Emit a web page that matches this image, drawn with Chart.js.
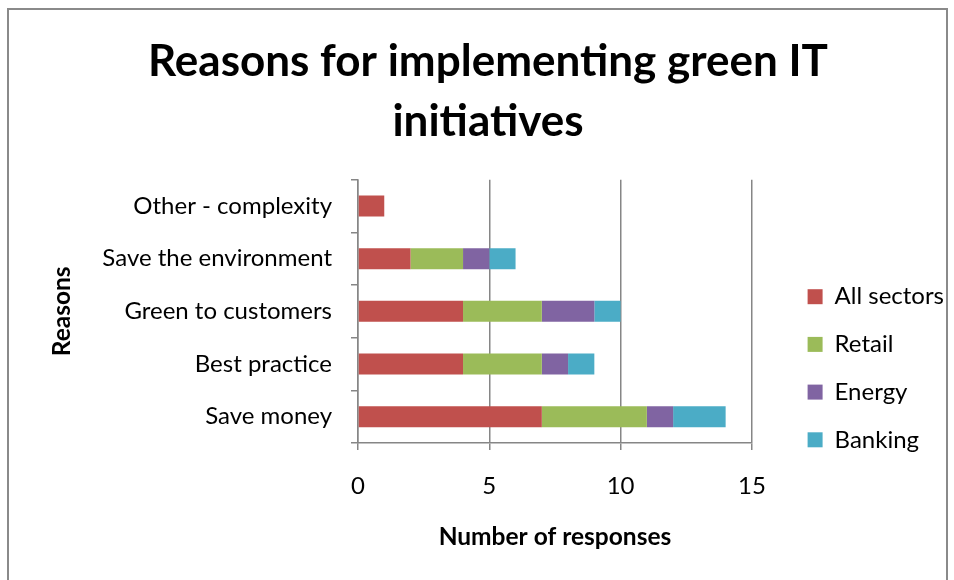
<!DOCTYPE html>
<html>
<head>
<meta charset="utf-8">
<script src="https://cdn.jsdelivr.net/npm/chart.js@4.4.1/dist/chart.umd.min.js"></script>
<style>
  html, body { margin: 0; padding: 0; background: #ffffff; }
  #wrap { width: 954px; height: 580px; position: relative; }
</style>
</head>
<body>
<div id="wrap"><canvas id="c" width="954" height="580"></canvas></div>
<script>
// ---- Data ----
const categories = ["Other - complexity", "Save the environment", "Green to customers", "Best practice", "Save money"];
const seriesNames = ["All sectors", "Retail", "Energy", "Banking"];
const allSectors = [1, 2, 4, 4, 7];
const retail     = [0, 2, 3, 3, 4];
const energy     = [0, 1, 2, 1, 1];
const banking    = [0, 1, 1, 1, 2];
const xTickValues = [0, 5, 10, 15];
const chartTitle = ["Reasons for implementing green IT", "initiatives"];
const xAxisTitle = "Number of responses";
const yAxisTitle = "Reasons";

const colors = ["#C0504D", "#9BBB59", "#8064A2", "#4BACC6"];
const FONT = "Lato, 'Open Sans', 'Liberation Sans', sans-serif";
const GRID = "#868686";

const frame = {
  id: "frame",
  beforeLayout(chart) {
    // let the legend take its natural width (not capped by the layout share)
    const lg = chart.legend;
    if (lg && !lg._widePatched) {
      const origFit = lg.fit.bind(lg);
      lg.fit = function () { this.maxWidth = 400; origFit(); };
      lg._widePatched = true;
    }
  },
  beforeDraw(chart) {
    const ctx = chart.ctx;
    ctx.save();
    ctx.fillStyle = "#ffffff";
    ctx.fillRect(0, 0, chart.width, chart.height);
    ctx.strokeStyle = "#8a8a8a";
    ctx.lineWidth = 2;
    ctx.strokeRect(8, 9, 939, 620);
    ctx.restore();
  }
};

const seriesValues = [allSectors, retail, energy, banking];

new Chart(document.getElementById("c"), {
  type: "bar",
  data: {
    labels: categories,
    datasets: seriesNames.map((name, i) => ({
      label: name,
      data: seriesValues[i],
      backgroundColor: colors[i],
      borderWidth: 0,
      barPercentage: 0.8,
      categoryPercentage: 0.5
    }))
  },
  options: {
    indexAxis: "y",
    responsive: false,
    animation: false,
    layout: { padding: { left: 22, right: 0, top: 0, bottom: 0 } },
    plugins: {
      tooltip: { enabled: false },
      title: {
        display: true,
        text: chartTitle,
        color: "#000000",
        font: { family: FONT, size: 44, weight: "bold", lineHeight: 1.36 },
        padding: { top: 32, bottom: 28 }
      },
      legend: {
        display: true,
        position: "right",
        align: "start",
        title: { display: true, text: " ", font: { size: 10, lineHeight: 1 }, padding: { top: 251, bottom: 0 } },
        labels: {
          boxWidth: 15,
          boxHeight: 15,
          padding: 23.7,
          color: "#000000",
          font: { family: FONT, size: 24 }
        }
      }
    },
    scales: {
      x: {
        type: "linear",
        stacked: true,
        min: 0,
        max: 15,
        afterBuildTicks: (s) => { s.ticks = xTickValues.map(v => ({ value: v })); },
        ticks: { color: "#000000", padding: 21.6, font: { family: FONT, size: 24 } },
        grid: { color: GRID, lineWidth: 1.5, tickLength: 7, drawOnChartArea: true },
        border: { display: true, color: GRID, width: 1.5 },
        title: {
          display: true,
          text: xAxisTitle,
          color: "#000000",
          font: { family: FONT, size: 24.5, weight: "bold", lineHeight: 1.2 },
          padding: { top: 0, bottom: 28 }
        },
        afterFit: (s) => { s.height = 137; }
      },
      y: {
        type: "category",
        stacked: true,
        ticks: { color: "#000000", padding: 19, font: { family: FONT, size: 24 } },
        grid: { offset: true, drawOnChartArea: false, color: GRID, lineWidth: 1.5, tickLength: 7 },
        border: { display: true, color: GRID, width: 1.5 },
        title: {
          display: true,
          text: yAxisTitle,
          color: "#000000",
          font: { family: FONT, size: 24.5, weight: "bold", lineHeight: 1.2 },
          padding: { top: 25, bottom: 0 }
        },
        afterFit: (s) => { s.width = 336; }
      },
      gap: {
        type: "linear",
        position: "right",
        display: true,
        grid: { display: false, drawTicks: false },
        border: { display: false },
        ticks: { display: false },
        afterFit: (s) => { s.width = 32; }
      }
    }
  },
  plugins: [frame]
});
</script>
</body>
</html>
